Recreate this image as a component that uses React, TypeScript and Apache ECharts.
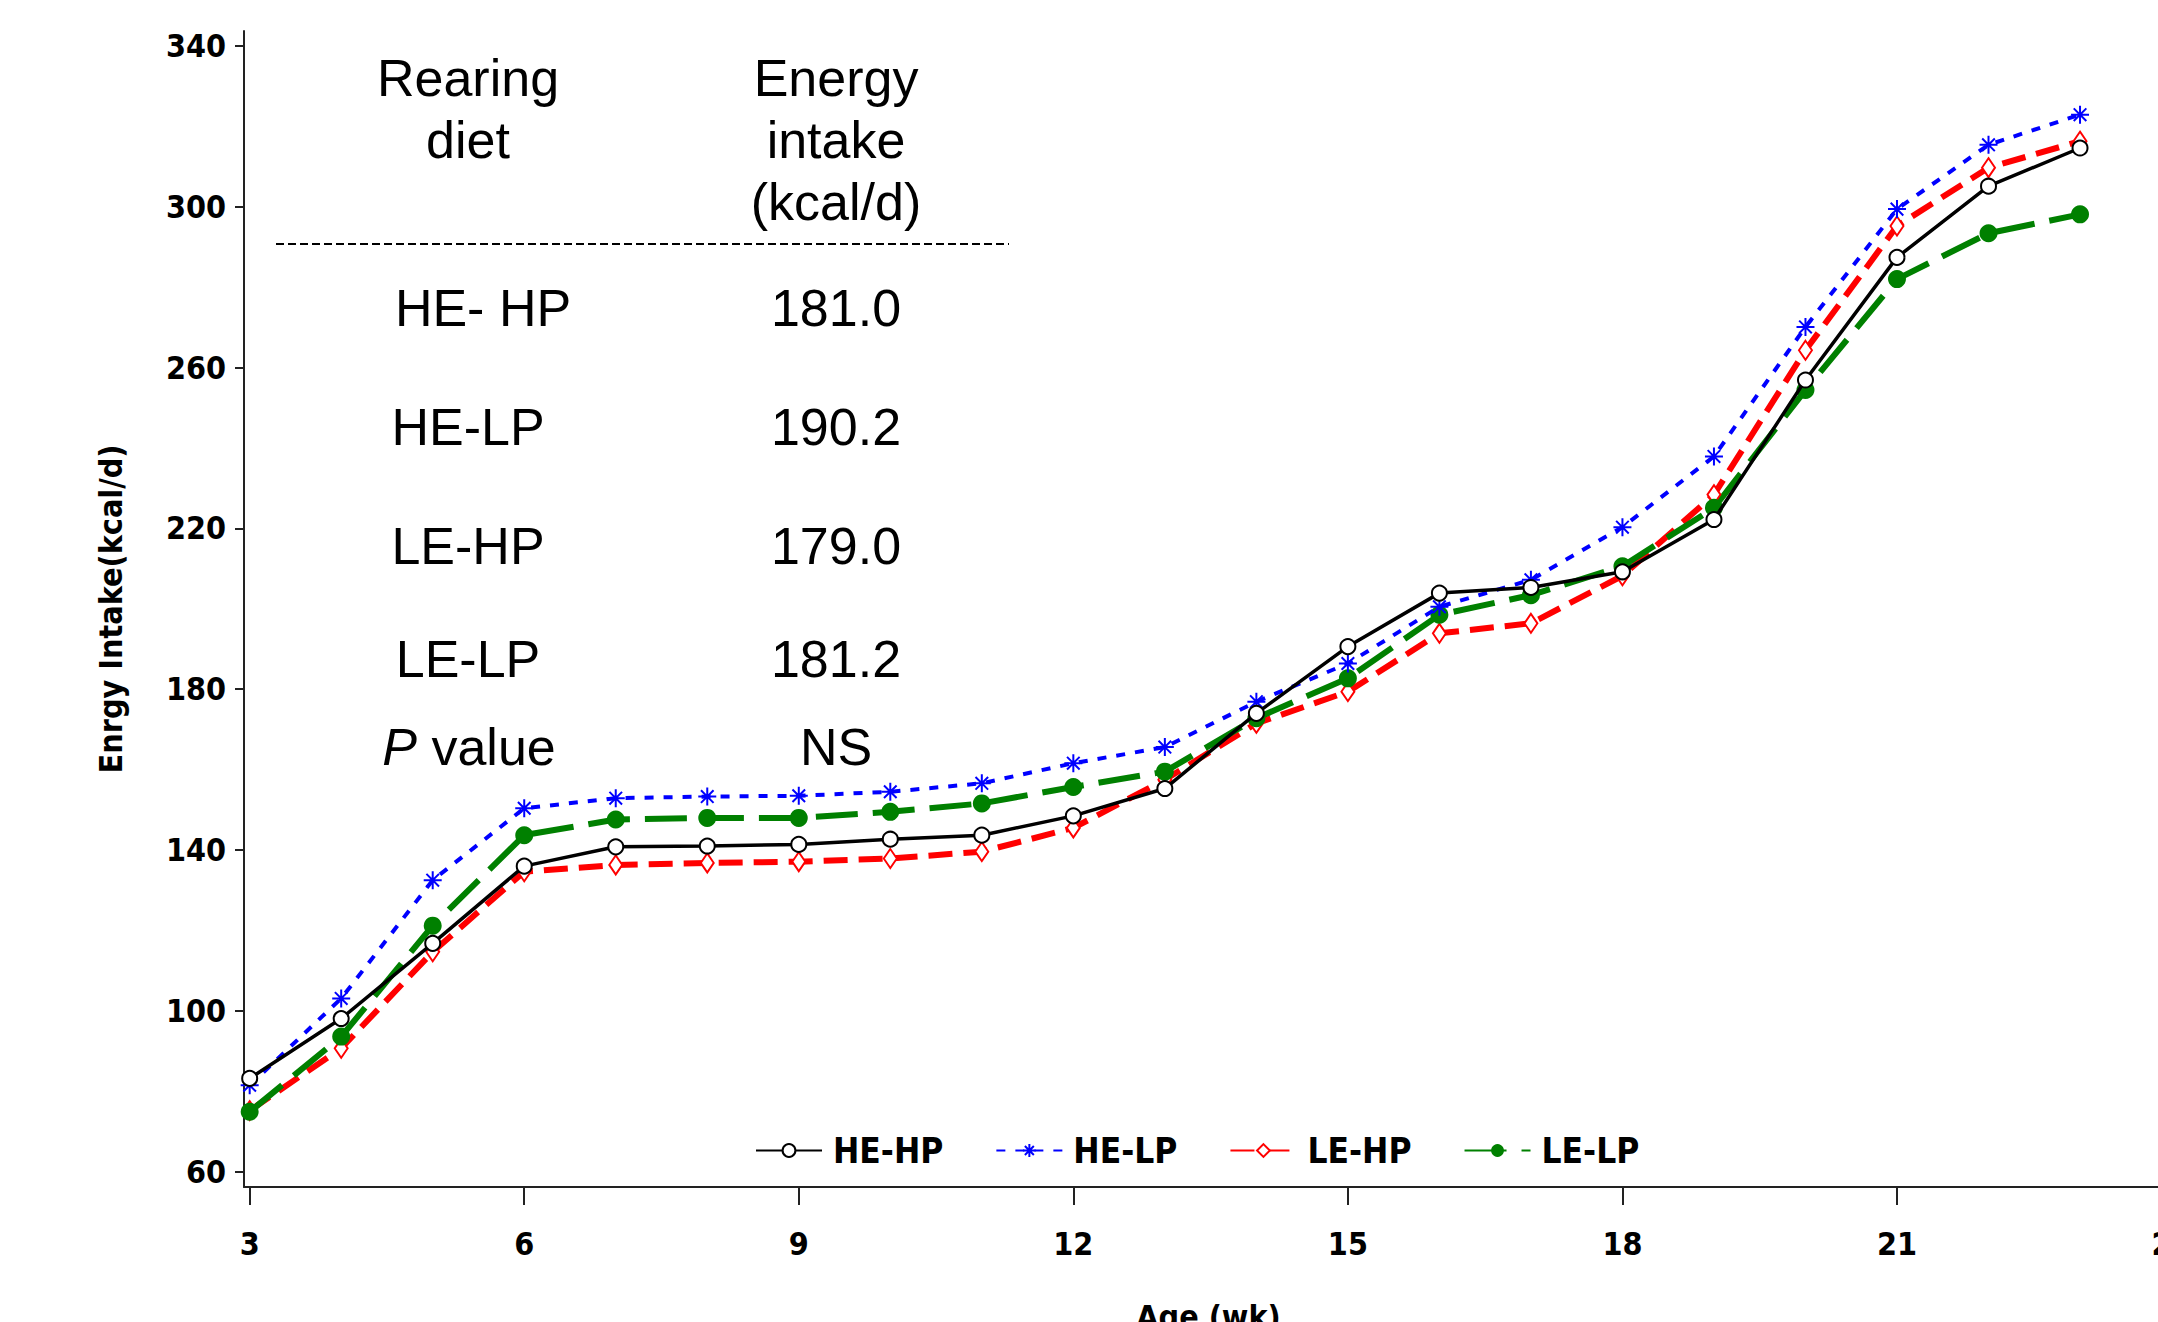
import React, { useEffect, useRef } from "react";
import * as echarts from "echarts";

const weeks = [3, 4, 5, 6, 7, 8, 9, 10, 11, 12, 13, 14, 15, 16, 17, 18, 19, 20, 21, 22, 23];
const heHp = [83.2, 98.1, 116.8, 136.0, 140.8, 141.0, 141.4, 142.7, 143.7, 148.5, 155.3, 174.0, 190.6, 203.9, 205.3, 209.2, 222.2, 256.9, 287.4, 305.1, 314.6];
const heLp = [81.5, 103.1, 132.5, 150.4, 152.9, 153.3, 153.5, 154.5, 156.6, 161.6, 165.6, 176.9, 186.4, 200.5, 207.2, 220.3, 237.9, 270.1, 299.4, 315.4, 322.9];
const leHp = [75.2, 90.7, 114.7, 134.6, 136.3, 136.8, 137.1, 137.9, 139.6, 145.5, 157.5, 171.5, 179.4, 193.9, 196.4, 208.2, 228.4, 264.3, 295.2, 309.7, 316.3];
const leLp = [74.9, 93.6, 121.2, 143.7, 147.6, 148.0, 148.0, 149.5, 151.6, 155.7, 159.5, 172.8, 182.7, 198.5, 203.4, 210.6, 225.1, 254.4, 282.0, 293.4, 298.1];

const seriesNames = ["HE-HP", "HE-LP", "LE-HP", "LE-LP"];
const yTicks = [60, 100, 140, 180, 220, 260, 300, 340];
const xTicks = [3, 6, 9, 12, 15, 18, 21, 24];

const tableHeadLeft = ["Rearing", "diet"];
const tableHeadRight = ["Energy", "intake", "(kcal/d)"];
const tableDiets = ["HE- HP", "HE-LP", "LE-HP", "LE-LP"];
const tableIntake = ["181.0", "190.2", "179.0", "181.2"];
const pValueText = "NS";

const axisFont = "'DejaVu Sans Condensed', 'DejaVu Sans', sans-serif";
const tableFont = "'Liberation Sans', Arial, sans-serif";

const pts = (vals: number[]) => weeks.map((w, i) => [w, vals[i]]);

export default function App() {
  const ref = useRef<HTMLDivElement>(null);
  useEffect(() => {
    if (!ref.current) return;
    const chart = echarts.init(ref.current, undefined, { renderer: "svg" });

    const colX1 = 468;
    const colX2 = 836;
    const rowY = [308, 427, 546, 659];
    const tText = (text: string, x: number, y: number, extra: any = {}) => ({
      type: "text",
      x,
      y,
      z: 10,
      style: {
        text,
        fill: "#000",
        fontSize: 52,
        fontFamily: tableFont,
        align: "center",
        verticalAlign: "middle",
        ...extra,
      },
    });

    const graphics: any[] = [];
    tableHeadLeft.forEach((t, i) => graphics.push(tText(t, colX1, 78 + i * 62)));
    tableHeadRight.forEach((t, i) => graphics.push(tText(t, colX2, 78 + i * 62)));
    graphics.push({
      type: "line",
      z: 10,
      shape: { x1: 276, y1: 244, x2: 1009, y2: 244 },
      style: { stroke: "#000", lineWidth: 2, lineDash: [8, 4] },
    });
    tableDiets.forEach((t, i) => graphics.push(tText(t, i === 0 ? 483 : colX1, rowY[i])));
    tableIntake.forEach((t, i) => graphics.push(tText(t, colX2, rowY[i])));
    graphics.push(
      tText("{i|P} value", 469, 747, {
        rich: { i: { fontStyle: "italic", fontSize: 52, fontFamily: tableFont, fill: "#000" } },
      })
    );
    graphics.push(tText(pValueText, colX2, 747));

    const option: any = {
      animation: false,
      backgroundColor: "#fff",
      grid: { left: 244, right: 1, top: 31, bottom: 135, containLabel: false, outerBoundsMode: "none" },
      legend: {
        left: 750,
        top: 1128,
        itemWidth: 66,
        itemHeight: 16,
        itemGap: 52,
        data: seriesNames,
        textStyle: {
          fontSize: 35,
          fontWeight: "bold",
          fontFamily: axisFont,
          color: "#000",
          padding: [0, 0, 0, 6],
        },
      },
      xAxis: {
        type: "value",
        min: 2.938,
        max: 24.3,
        name: "Age (wk)",
        nameLocation: "middle",
        nameGap: 114,
        nameTextStyle: {
          fontSize: 32,
          fontWeight: "bold",
          fontFamily: axisFont,
          color: "#000",
          padding: [0, 26, 0, 0],
        },
        splitLine: { show: false },
        axisLine: { show: true, onZero: false, lineStyle: { color: "#222", width: 2 } },
        axisTick: { show: true, length: 18, customValues: xTicks, lineStyle: { color: "#222", width: 2 } },
        axisLabel: {
          customValues: xTicks,
          margin: 41,
          fontSize: 32,
          fontWeight: "bold",
          fontFamily: axisFont,
          color: "#000",
        },
      },
      yAxis: {
        type: "value",
        min: 56.2,
        max: 343.7,
        name: "Enrgy Intake(kcal/d)",
        nameLocation: "middle",
        nameGap: 117,
        nameTextStyle: {
          fontSize: 32,
          fontWeight: "bold",
          fontFamily: axisFont,
          color: "#000",
        },
        splitLine: { show: false },
        axisLine: { show: true, onZero: false, lineStyle: { color: "#222", width: 2 } },
        axisTick: { show: true, length: 9, customValues: yTicks, lineStyle: { color: "#222", width: 2 } },
        axisLabel: {
          customValues: yTicks,
          margin: 18,
          fontSize: 32,
          fontWeight: "bold",
          fontFamily: axisFont,
          color: "#000",
        },
      },
      series: [
        {
          name: seriesNames[0],
          type: "line",
          z: 4,
          data: pts(heHp),
          symbol: "emptyCircle",
          symbolSize: 15,
          lineStyle: { color: "#000", width: 3.5, type: "solid" },
          itemStyle: { color: "#000", borderColor: "#000", borderWidth: 2 },
        },
        {
          name: seriesNames[1],
          type: "line",
          z: 3,
          data: pts(heLp),
          symbol: "path://M0,-10L0,10M-10,0L10,0M-7,-7L7,7M-7,7L7,-7",
          symbolSize: 18,
          lineStyle: { color: "#0000ff", width: 4, type: [9, 10] },
          itemStyle: { color: "#0000ff", borderColor: "#0000ff", borderWidth: 2 },
        },
        {
          name: seriesNames[2],
          type: "line",
          z: 2,
          data: pts(leHp),
          symbol: "emptyDiamond",
          symbolSize: [13, 19],
          lineStyle: { color: "#ff0000", width: 6, type: [24, 11] },
          itemStyle: { color: "#ff0000", borderColor: "#ff0000", borderWidth: 1.5 },
        },
        {
          name: seriesNames[3],
          type: "line",
          z: 2,
          data: pts(leLp),
          symbol: "circle",
          symbolSize: 18,
          lineStyle: { color: "#008000", width: 6, type: [42, 15] },
          itemStyle: { color: "#008000" },
        },
      ],
      graphic: graphics,
    };
    chart.setOption(option);
    return () => chart.dispose();
  }, []);
  return (
    <div
      ref={ref}
      style={{ position: "fixed", left: 0, top: 0, width: 2200, height: 1322, background: "#fff" }}
    />
  );
}
